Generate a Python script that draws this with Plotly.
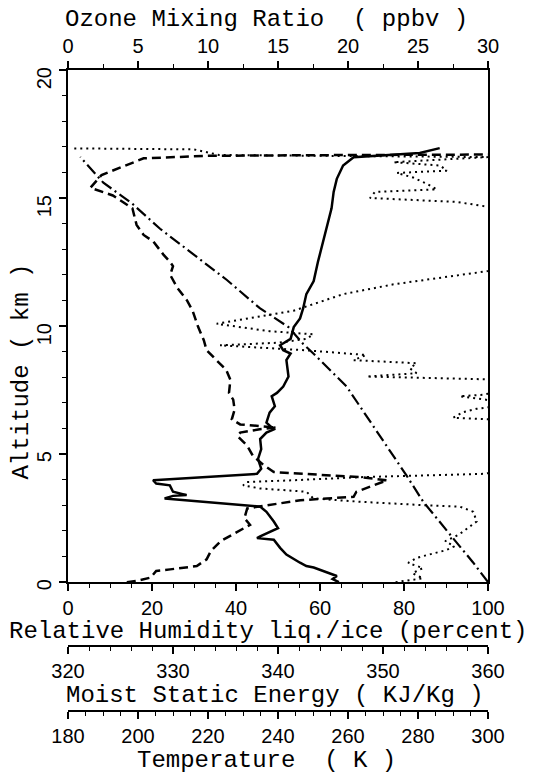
import plotly.graph_objects as go

# ---------------- profile data ----------------
# Relative humidity (percent, w.r.t. liquid/ice) vs altitude (km)
rh_alt = [0.0, 0.15, 0.35, 0.55, 0.75, 0.95, 1.25, 1.4, 1.6, 1.85, 2.37, 2.75, 2.95, 3.0,
          3.14, 3.27, 3.53, 3.66, 3.78, 3.91, 3.98, 4.1, 4.23, 4.35, 6.3, 6.36, 6.42, 6.64,
          6.77, 6.85, 7.0, 7.13, 7.26, 7.32, 7.5, 7.85, 7.92, 8.03, 8.16, 8.35, 8.55, 8.67,
          8.87, 9.05, 9.25, 9.35, 9.5, 9.68, 9.8, 10.09, 10.6, 11.1, 11.25, 11.63, 12.15,
          12.3, 14.5, 14.66, 14.85, 15.0, 15.24, 15.34, 15.56, 15.8, 15.98, 16.07, 16.27,
          16.4, 16.6, 16.68, 16.9, 16.94]
rh_val = [78, 84.5, 82, 84.5, 81, 83, 90, 92, 89.8, 93, 97.3, 96.5, 93.3, 85.4,
          69.5, 58.4, 56.8, 45.7, 41.7, 42.5, 53.7, 69.5, 98.9, 104, 104, 100, 91.7, 94.1,
          97.3, 101, 104, 99.3, 93.3, 98.9, 104, 104, 100, 71.1, 83, 81.4, 83, 68,
          71, 57, 36.2, 50, 56.8, 58.4, 48, 35.4, 53.7, 63.2, 65.6, 77.5, 100,
          104, 104, 100, 92.5, 71.9, 73.1, 87.8, 85.4, 82.2, 78.3, 90.2, 88.6,
          77.5, 100, 36, 30, 1]

# Ozone mixing ratio (ppbv) vs altitude (km)
o3_alt = [0.0, 0.05, 0.18, 0.44, 0.5, 0.63, 0.89, 1.21, 1.6, 1.98, 2.24, 2.5, 2.88, 3.0,
          3.2, 3.27, 3.33, 3.53, 3.78, 3.98, 4.1, 4.17, 4.23, 4.3, 4.56, 4.94, 5.33, 5.71,
          5.84, 5.97, 6.04, 6.1, 6.16, 6.36, 6.74, 7.13, 7.39, 7.9, 8.29, 8.67, 9.06, 9.45,
          9.96, 10.6, 11.0, 11.5, 12.0, 12.34, 12.5, 12.8, 13.3, 13.56, 13.95, 14.6, 15.1,
          15.4, 15.9, 16.55, 16.65, 16.68, 16.7]
o3_val = [4.2, 4.9, 5.9, 6.3, 7.3, 9.2, 9.9, 10.2, 10.9, 12.1, 13.0, 12.6, 12.8, 14.2,
          16.6, 18.5, 20.4, 20.6, 21.8, 22.8, 20.9, 18.5, 16.1, 14.7, 14.0, 13.2, 12.8, 12.1,
          12.3, 13.7, 14.9, 13.7, 12.3, 11.7, 11.9, 11.8, 11.5, 11.6, 11.3, 10.6, 9.9, 9.7,
          9.3, 8.9, 8.5, 7.8, 7.3, 7.5, 7.3, 6.8, 6.1, 5.4, 4.9, 4.6, 3.2,
          1.6, 2.4, 5.4, 10.0, 20.0, 31.0]

# Moist static energy (kJ/kg) vs altitude (km)
mse_alt = [0.0, 0.12, 0.24, 0.38, 0.57, 0.63, 0.76, 1.08, 1.34, 1.66, 1.72, 1.79, 2.11,
           2.37, 2.75, 2.95, 3.27, 3.37, 3.40, 3.53, 3.78, 3.85, 3.98, 4.23, 4.43, 4.81,
           5.2, 5.59, 5.84, 5.97, 6.1, 6.23, 6.62, 6.87, 7.26, 7.39, 7.64, 8.03, 8.67, 8.93,
           9.06, 9.25, 9.5, 9.7, 9.96, 10.3, 10.7, 11.25, 11.76, 12.5, 13.3, 13.8, 14.6,
           15.24, 15.75, 16.27, 16.59, 16.76, 16.95]
mse_val = [345.8, 345.2, 345.6, 344.6, 343.4, 342.7, 342.1, 340.8, 340.2, 339.6, 338.0, 338.3,
           340.0, 339.6, 338.9, 338.3, 329.2, 330.0, 331.3, 330.0, 329.7, 328.4, 328.1, 338.0,
           338.4, 338.1, 338.4, 338.3, 338.9, 339.6, 339.2, 338.9, 339.2, 339.7, 339.4, 339.9,
           340.5, 341.0, 340.8, 341.2, 340.5, 340.2, 341.2, 341.3, 341.5, 342.1, 342.4, 342.7,
           343.4, 343.8, 344.3, 344.6, 345.1, 345.3, 345.6, 346.2, 347.2, 353.5, 355.4]

# Temperature (K) vs altitude (km)
t_alt = [0.0, 0.76, 1.72, 3.14, 4.17, 5.7, 7.64, 8.93, 9.3, 9.96, 10.7, 11.8, 12.8, 13.8,
         14.8, 15.6, 16.6]
t_val = [300.0, 295.8, 290.0, 281.5, 276.7, 269.2, 259.6, 250.1, 247.2, 243.0, 234.8,
         225.4, 215.8, 206.3, 198.2, 190.1, 183.5]

# ---------------- styling ----------------
W, H = 539, 781
ML, MR, MT, MB = 68, 51, 70, 0
PLOT_BOTTOM = 588          # pixel row of the main plot's lower edge
MSE_LINE = 653             # pixel row of the moist static energy axis
T_LINE = 718               # pixel row of the temperature axis
paper_h = H - MT - MB
paper_w = W - ML - MR


def py(p):
    return (H - MB - p) / paper_h


def px(p):
    return (p - ML) / paper_w


TICK_FONT = dict(family="Liberation Sans, Arial, sans-serif", size=20, color="black")
TITLE_FONT = dict(family="Courier New, Nimbus Mono PS, FreeMono, Liberation Mono, monospace",
                  size=24, color="black")

fig = go.Figure()

fig.add_trace(go.Scatter(x=rh_val, y=rh_alt, mode="lines", xaxis="x", yaxis="y",
                         line=dict(color="black", width=2, dash="2px,4px"),
                         name="Relative humidity", showlegend=False))
fig.add_trace(go.Scatter(x=o3_val, y=o3_alt, mode="lines", xaxis="x2", yaxis="y",
                         line=dict(color="black", width=2.5, dash="9px,5px"),
                         name="Ozone", showlegend=False))
fig.add_trace(go.Scatter(x=mse_val, y=mse_alt, mode="lines", xaxis="x3", yaxis="y",
                         line=dict(color="black", width=2.5),
                         name="Moist static energy", showlegend=False))
fig.add_trace(go.Scatter(x=t_val, y=t_alt, mode="lines", xaxis="x4", yaxis="y",
                         line=dict(color="black", width=2.2, dash="12px,4px,2px,4px"),
                         name="Temperature", showlegend=False))

common = dict(showgrid=False, zeroline=False, showline=True, linecolor="black",
              linewidth=2, ticks="outside", tickcolor="black", tickwidth=1.5,
              ticklen=7, tickfont=TICK_FONT)

fig.update_layout(
    width=W, height=H,
    margin=dict(l=ML, r=MR, t=MT, b=MB, pad=0),
    plot_bgcolor="white", paper_bgcolor="white",
    showlegend=False,
    xaxis=dict(range=[0, 100], dtick=20, tick0=0, domain=[0, 1], anchor="y", side="bottom",
               minor=dict(dtick=5, ticklen=4, ticks="outside", tickcolor="black", tickwidth=1.2),
               **common),
    xaxis2=dict(range=[0, 30], dtick=5, tick0=0, overlaying="x", anchor="y", side="top",
                minor=dict(dtick=2.5, ticklen=4, ticks="outside", tickcolor="black", tickwidth=1.2),
                **common),
    xaxis3=dict(range=[320, 360], dtick=10, tick0=320, overlaying="x", anchor="free",
                position=py(MSE_LINE), side="bottom",
                minor=dict(dtick=2, ticklen=4, ticks="outside", tickcolor="black", tickwidth=1.2),
                **common),
    xaxis4=dict(range=[180, 300], dtick=20, tick0=180, overlaying="x", anchor="free",
                position=py(T_LINE), side="bottom",
                minor=dict(dtick=5, ticklen=4, ticks="outside", tickcolor="black", tickwidth=1.2),
                **common),
    yaxis=dict(range=[0, 20], dtick=5, tick0=0, domain=[py(PLOT_BOTTOM), 1], anchor="x",
               tickangle=-89.9, mirror=True, ticklabelstandoff=14,
               minor=dict(dtick=1, ticklen=4, ticks="outside", tickcolor="black", tickwidth=1.2),
               **common),
)

titles = [
    ("Ozone Mixing Ratio  ( ppbv )", 266, 19, 0),
    ("Relative Humidity liq./ice (percent)", 268, 638, 0),
    ("Moist Static Energy ( KJ/Kg )", 275, 703, 0),
    ("Temperature  ( K )", 266, 768, 0),
    ("Altitude ( km )", 22, 375, -90),
]
for text, x_px, y_px, ang in titles:
    fig.add_annotation(text=text, x=px(x_px), y=py(y_px), xref="paper", yref="paper",
                       xanchor="center", yanchor="middle", showarrow=False,
                       textangle=ang, font=TITLE_FONT)

fig.write_html("out.html")
